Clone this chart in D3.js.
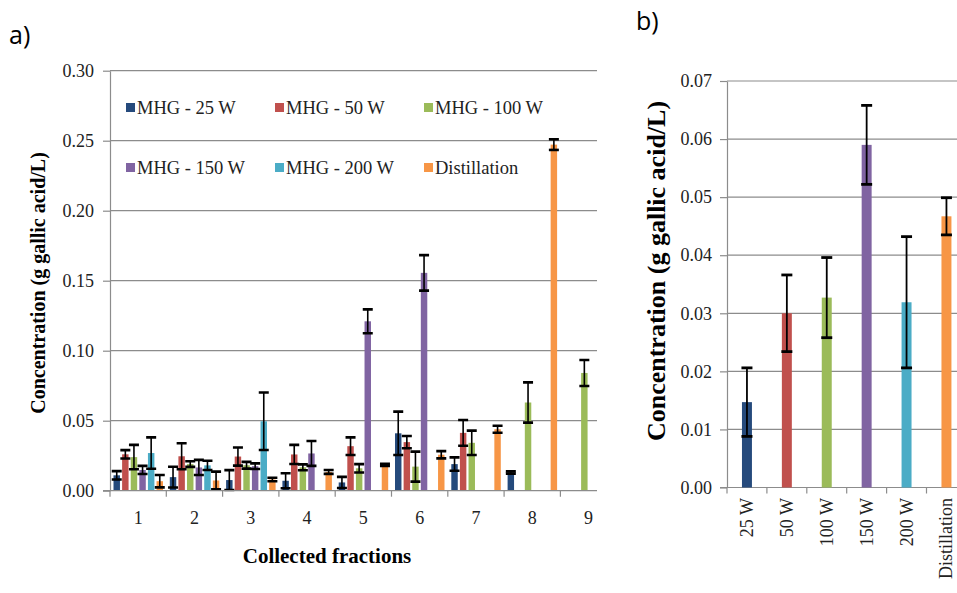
<!DOCTYPE html>
<html>
<head>
<meta charset="utf-8">
<script src="https://cdn.jsdelivr.net/npm/d3@7"></script>
<style>
  body { margin: 0; background: #fff; }
  svg text { font-family: "Liberation Serif", "Times New Roman", "DejaVu Serif", serif !important; }
  svg text.panel { font-family: "Open Sans", "Liberation Sans", sans-serif !important; }
</style>
</head>
<body>
<div id="chart"></div>
<script>
// Panel a) concentration per collected fraction
const fractions = ["1", "2", "3", "4", "5", "6", "7", "8", "9"];
const seriesNames = ["MHG - 25 W", "MHG - 50 W", "MHG - 100 W", "MHG - 150 W", "MHG - 200 W", "Distillation"];
const mhg25 = [0.011, 0.0097, 0.0076, 0.0071, 0.0059, 0.041, 0.019, 0.013, null];
const mhg25Err = [0.003, 0.0074, 0.0071, 0.0054, 0.004, 0.0155, 0.0048, 0.0008, null];
const mhg50 = [0.026, 0.0246, 0.0244, 0.0259, 0.0318, 0.0347, 0.0413, null, null];
const mhg50Err = [0.003, 0.0093, 0.0065, 0.0068, 0.0063, 0.0044, 0.0092, null, null];
const mhg100 = [0.024, 0.019, 0.0182, 0.0167, 0.016, 0.0172, 0.0342, 0.063, 0.0841];
const mhg100Err = [0.0087, 0.002, 0.0024, 0.0021, 0.003, 0.0107, 0.0087, 0.0144, 0.0093];
const mhg150 = [0.0148, 0.0166, 0.0175, 0.0266, 0.121, 0.1556, null, null, null];
const mhg150Err = [0.0029, 0.0054, 0.002, 0.0089, 0.0085, 0.0127, null, null, null];
const mhg200 = [0.0269, 0.0181, 0.0496, null, null, null, null, null, null];
const mhg200Err = [0.0112, 0.0033, 0.0205, null, null, null, null, null, null];
const distil = [0.0068, 0.0073, 0.008, 0.0134, 0.0185, 0.0257, 0.0439, 0.2472, null];
const distilErr = [0.0044, 0.0063, 0.0013, 0.0014, 0.0008, 0.0026, 0.0025, 0.0038, null];
const yTicksA = [0, 0.05, 0.10, 0.15, 0.20, 0.25, 0.30];

// Panel b) total per method
const methods = ["25 W", "50 W", "100 W", "150 W", "200 W", "Distillation"];
const totals = [0.0147, 0.030, 0.0327, 0.059, 0.0319, 0.0467];
const totalsErr = [0.0059, 0.0066, 0.0069, 0.0068, 0.0113, 0.0032];
const yTicksB = [0, 0.01, 0.02, 0.03, 0.04, 0.05, 0.06, 0.07];

const colors = ["#254a7c", "#c0504d", "#9bbb59", "#8064a2", "#4bacc6", "#f79646"];
const gridColor = "#8c8c8c";

const width = 957;
const height = 593;

const svg = d3.select("#chart")
              .append("svg")
              .attr("width", width)
              .attr("height", height);

const values = [mhg25, mhg50, mhg100, mhg150, mhg200, distil];
const errors = [mhg25Err, mhg50Err, mhg100Err, mhg150Err, mhg200Err, distilErr];

const barsA = [];
seriesNames.forEach((s, si) => {
  fractions.forEach((f, fi) => {
    if (values[si][fi] != null) {
      barsA.push({ series: s, fraction: f, value: values[si][fi], err: errors[si][fi], color: colors[si] });
    }
  });
});

// ---------- panel a ----------
const plotA = { left: 110, right: 597, top: 70.7, bottom: 490.7 };

const xA = d3.scaleBand()
             .domain(fractions)
             .range([plotA.left, plotA.left + 9 * 56.3]);

const xInner = d3.scaleBand()
                 .domain(seriesNames)
                 .range([3.5, 53])
                 .paddingInner(0.25);

const yA = d3.scaleLinear()
             .domain([0, 0.3])
             .range([plotA.bottom, plotA.top]);

svg.append("defs").append("clipPath")
   .attr("id", "clipA")
   .append("rect")
     .attr("x", plotA.left)
     .attr("y", 0)
     .attr("width", plotA.right - plotA.left)
     .attr("height", plotA.bottom + 1);

const gA = svg.append("g");

// gridlines
gA.append("g")
  .selectAll("line")
  .data(yTicksA.slice(1))
  .enter().append("line")
    .attr("x1", plotA.left)
    .attr("x2", plotA.right)
    .attr("y1", d => yA(d))
    .attr("y2", d => yA(d))
    .attr("stroke", gridColor)
    .attr("stroke-width", 1.2);

const yAxisA = gA.append("g")
  .attr("transform", `translate(${plotA.left},0)`)
  .call(d3.axisLeft(yA).tickValues(yTicksA).tickFormat(d3.format(".2f")).tickSize(7).tickSizeOuter(0).tickPadding(9));
yAxisA.selectAll("line, path").attr("stroke", gridColor).attr("stroke-width", 1.2);
yAxisA.selectAll("text").attr("font-size", 18).attr("fill", "#222");

// bars
const barLayer = gA.append("g").attr("clip-path", "url(#clipA)");
barLayer.selectAll("rect")
  .data(barsA)
  .enter().append("rect")
    .attr("x", d => xA(d.fraction) + xInner(d.series))
    .attr("width", xInner.bandwidth())
    .attr("y", d => yA(d.value))
    .attr("height", d => yA(0) - yA(d.value))
    .attr("fill", d => d.color);

// error bars
const errA = barLayer.selectAll("g.err")
  .data(barsA)
  .enter().append("g")
    .attr("class", "err")
    .attr("transform", d => `translate(${xA(d.fraction) + xInner(d.series) + xInner.bandwidth() / 2},0)`);
errA.append("line")
    .attr("y1", d => yA(d.value + d.err))
    .attr("y2", d => yA(d.value - d.err))
    .attr("stroke", "#000").attr("stroke-width", 1.6);
errA.selectAll("line.cap")
  .data(d => [d.value + d.err, d.value - d.err])
  .enter().append("line")
    .attr("class", "cap")
    .attr("x1", -5).attr("x2", 5)
    .attr("y1", d => yA(d)).attr("y2", d => yA(d))
    .attr("stroke", "#000").attr("stroke-width", 2.6);

// x axis
gA.append("line")
  .attr("x1", plotA.left - 7).attr("x2", plotA.right)
  .attr("y1", plotA.bottom).attr("y2", plotA.bottom)
  .attr("stroke", gridColor).attr("stroke-width", 1.2);
gA.append("g")
  .selectAll("line")
  .data(fractions)
  .enter().append("line")
    .attr("x1", d => xA(d)).attr("x2", d => xA(d))
    .attr("y1", plotA.bottom).attr("y2", plotA.bottom + 6)
    .attr("stroke", gridColor).attr("stroke-width", 1.2);
gA.append("g")
  .selectAll("text")
  .data(fractions)
  .enter().append("text")
    .attr("x", d => xA(d) + xA.bandwidth() / 2)
    .attr("y", 524)
    .attr("text-anchor", "middle")
    .attr("font-size", 18)
    .attr("fill", "#222")
    .text(d => d);

gA.append("text")
  .attr("x", 327).attr("y", 563)
  .attr("text-anchor", "middle")
  .attr("font-size", 21).attr("font-weight", "bold")
  .text("Collected fractions");

gA.append("text")
  .attr("transform", "translate(45,283) rotate(-90)")
  .attr("text-anchor", "middle")
  .attr("font-size", 20).attr("font-weight", "bold")
  .text("Concentration (g gallic acid/L)");

// legend
const legendX = [126, 275, 424];
const legendY = [108, 168];
const legend = gA.append("g")
  .selectAll("g")
  .data(seriesNames)
  .enter().append("g")
    .attr("transform", (d, i) => `translate(${legendX[i % 3]},${legendY[Math.floor(i / 3)]})`);
legend.append("rect")
  .attr("x", 0).attr("y", -5)
  .attr("width", 9).attr("height", 9)
  .attr("fill", (d, i) => colors[i]);
legend.append("text")
  .attr("x", 11).attr("y", 6)
  .attr("font-size", 18.5)
  .attr("fill", "#222")
  .text(d => d);

svg.append("text")
   .attr("class", "panel")
   .attr("x", 9).attr("y", 44)
   .attr("font-size", 25)
   .text("a)");

// ---------- panel b ----------
const plotB = { left: 727, right: 957, top: 81, bottom: 487.5 };

const xB = d3.scaleBand()
             .domain(methods)
             .range([plotB.left, plotB.left + 6 * 39.9])
             .paddingInner(0.75)
             .paddingOuter(0.375);

const yB = d3.scaleLinear()
             .domain([0, 0.07])
             .range([plotB.bottom, plotB.top]);

const gB = svg.append("g");

gB.append("g")
  .selectAll("line")
  .data(yTicksB.slice(1))
  .enter().append("line")
    .attr("x1", plotB.left).attr("x2", plotB.right)
    .attr("y1", d => yB(d)).attr("y2", d => yB(d))
    .attr("stroke", gridColor).attr("stroke-width", 1.2);

const yAxisB = gB.append("g")
  .attr("transform", `translate(${plotB.left},0)`)
  .call(d3.axisLeft(yB).tickValues(yTicksB).tickFormat(d3.format(".2f")).tickSize(7).tickSizeOuter(0).tickPadding(8));
yAxisB.selectAll("line, path").attr("stroke", gridColor).attr("stroke-width", 1.2);
yAxisB.selectAll("text").attr("font-size", 18).attr("fill", "#222");

gB.append("line")
  .attr("x1", plotB.left - 7).attr("x2", plotB.right)
  .attr("y1", plotB.bottom).attr("y2", plotB.bottom)
  .attr("stroke", gridColor).attr("stroke-width", 1.2);

const stepB = xB.step();
gB.append("g")
  .selectAll("line")
  .data(methods)
  .enter().append("line")
    .attr("x1", d => xB(d) - stepB * 0.375).attr("x2", d => xB(d) - stepB * 0.375)
    .attr("y1", plotB.bottom).attr("y2", plotB.bottom + 6)
    .attr("stroke", gridColor).attr("stroke-width", 1.2);

const barsB = methods.map((m, i) => ({ method: m, value: totals[i], err: totalsErr[i], color: colors[i] }));

gB.append("g")
  .selectAll("rect")
  .data(barsB)
  .enter().append("rect")
    .attr("x", d => xB(d.method))
    .attr("width", xB.bandwidth())
    .attr("y", d => yB(d.value))
    .attr("height", d => yB(0) - yB(d.value))
    .attr("fill", d => d.color);

const errB = gB.selectAll("g.errb")
  .data(barsB)
  .enter().append("g")
    .attr("class", "errb")
    .attr("transform", d => `translate(${xB(d.method) + xB.bandwidth() / 2},0)`);
errB.append("line")
    .attr("y1", d => yB(d.value + d.err))
    .attr("y2", d => yB(d.value - d.err))
    .attr("stroke", "#000").attr("stroke-width", 1.8);
errB.selectAll("line.cap")
  .data(d => [d.value + d.err, d.value - d.err])
  .enter().append("line")
    .attr("class", "cap")
    .attr("x1", -5.5).attr("x2", 5.5)
    .attr("y1", d => yB(d)).attr("y2", d => yB(d))
    .attr("stroke", "#000").attr("stroke-width", 2.8);

gB.append("g")
  .selectAll("text")
  .data(methods)
  .enter().append("text")
    .attr("transform", d => `translate(${xB(d) + xB.bandwidth() / 2 + 6},498) rotate(-90)`)
    .attr("text-anchor", "end")
    .attr("font-size", 18)
    .attr("fill", "#222")
    .text(d => d);

gB.append("text")
  .attr("transform", "translate(665,271) rotate(-90)")
  .attr("text-anchor", "middle")
  .attr("font-size", 26).attr("font-weight", "bold")
  .text("Concentration (g gallic acid/L)");

svg.append("text")
   .attr("class", "panel")
   .attr("x", 636).attr("y", 30)
   .attr("font-size", 25)
   .text("b)");
</script>
</body>
</html>
